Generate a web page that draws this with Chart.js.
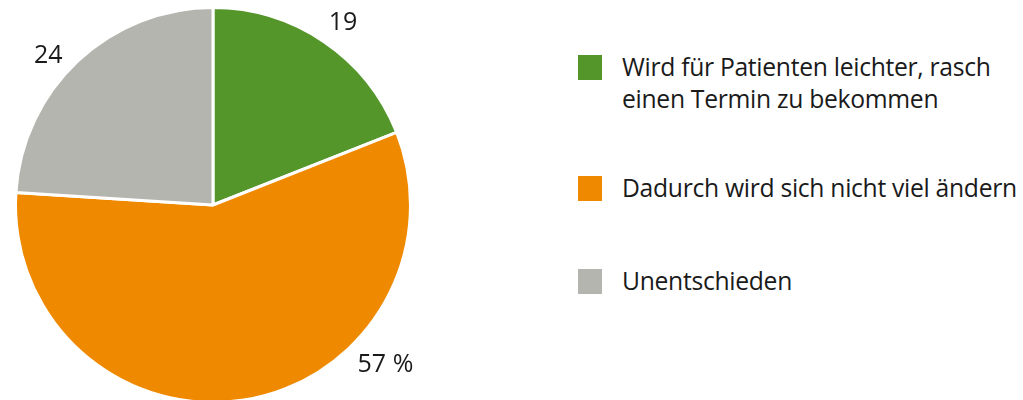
<!DOCTYPE html>
<html>
<head>
<meta charset="utf-8">
<script src="https://cdn.jsdelivr.net/npm/chart.js@4/dist/chart.umd.min.js"></script>
<style>
    html, body { margin: 0; padding: 0; background: #fff; overflow: hidden; }
    #wrap { position: relative; width: 1023px; height: 400px; }
    #pieBox { position: absolute; left: 0; top: 0; width: 430px; height: 412px; }
    #legend { position: absolute; left: 578px; top: 0; font-family: "Open Sans", sans-serif; font-size: 24.7px; color: #1a1a1a; }
    .item { position: absolute; left: 0; white-space: nowrap; }
    .box { position: absolute; left: 0; width: 24px; height: 25px; }
    .txt { position: absolute; left: 44px; top: -4.5px; line-height: 32px; letter-spacing: -0.3px; }
</style>
</head>
<body>
<div id="wrap">
    <div id="pieBox"><canvas id="pieChart"></canvas></div>
    <div id="legend"></div>
</div>
<script>
// Data
const categories = [
    ['Wird für Patienten leichter, rasch', 'einen Termin zu bekommen'],
    ['Dadurch wird sich nicht viel ändern'],
    ['Unentschieden']
];
const shares = [19, 57, 24];
const valueLabels = ['19', '57 %', '24'];
const colors = ['#55962a', '#ef8a00', '#b5b5af'];

// Where the outside labels sit (angle in degrees from 12 o'clock, distance from centre)
const labelSpots = [
    { angle: 35.5, dist: 224 },
    { angle: 132.8, dist: 235 },
    { angle: 312.1, dist: 222 }
];

// Outside value labels
const outsideLabels = {
    id: 'outsideLabels',
    afterDraw(chart) {
        const ctx = chart.ctx;
        const arcs = chart.getDatasetMeta(0).data;
        ctx.save();
        ctx.font = '25px "Open Sans", sans-serif';
        ctx.fillStyle = '#1a1a1a';
        ctx.textAlign = 'center';
        ctx.textBaseline = 'middle';
        arcs.forEach((arc, i) => {
            const spot = labelSpots[i];
            const a = spot.angle * Math.PI / 180;
            const x = arc.x + Math.sin(a) * spot.dist;
            const y = arc.y - Math.cos(a) * spot.dist;
            ctx.fillText(valueLabels[i], x, y);
        });
        ctx.restore();
    }
};

function initPieChart() {
    const ctx = document.getElementById('pieChart').getContext('2d');
    new Chart(ctx, {
        type: 'pie',
        data: {
            labels: categories.map(c => c.join(' ')),
            datasets: [{
                data: shares,
                backgroundColor: colors,
                borderColor: '#ffffff',
                borderWidth: 3
            }]
        },
        options: {
            responsive: true,
            maintainAspectRatio: false,
            animation: false,
            layout: { padding: { left: 14, top: 6, right: 18, bottom: 8 } },
            plugins: {
                legend: { display: false },
                tooltip: { enabled: false }
            }
        },
        plugins: [outsideLabels]
    });
}

// HTML legend
function buildLegend() {
    const legend = document.getElementById('legend');
    const boxTops = [55, 176, 269];
    legend.innerHTML = categories.map((lines, i) => `
        <div class="item" style="top:${boxTops[i]}px">
            <div class="box" style="background:${colors[i]}"></div>
            <div class="txt">${lines.join('<br>')}</div>
        </div>
    `).join('');
}

buildLegend();
initPieChart();
</script>
</body>
</html>
